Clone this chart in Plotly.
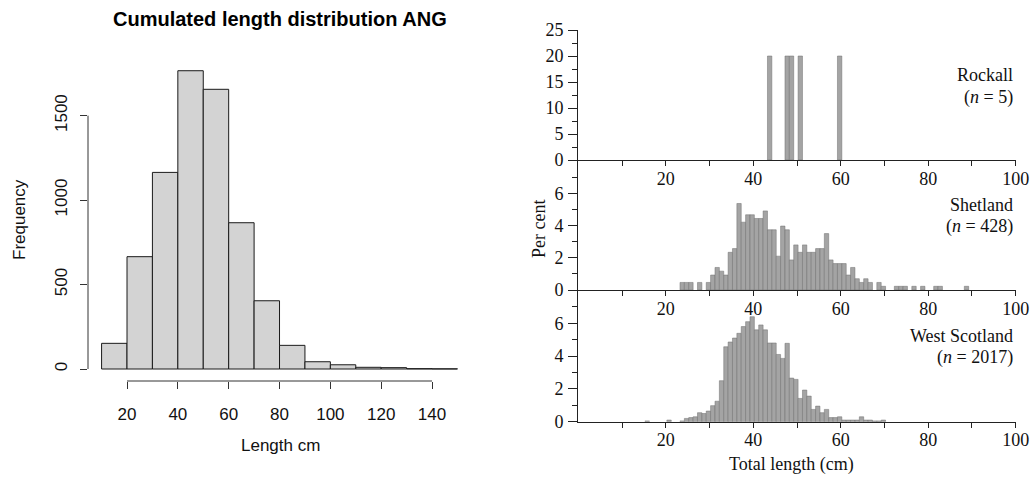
import plotly.graph_objects as go

# ---------------- data ----------------
# Left panel: cumulated length distribution ANG (10 cm bins)
ang_bin_start = [10, 20, 30, 40, 50, 60, 70, 80, 90, 100, 110, 120, 130, 140]
ang_counts = [152, 665, 1164, 1766, 1656, 866, 404, 140, 43, 25, 10, 8, 2, 1]
ang_xticks = [20, 40, 60, 80, 100, 120, 140]
ang_yticks = [0, 500, 1000, 1500]

# Right panels: per cent by 1 cm length class (lower bound of class)
rockall_len = [43, 47, 48, 50, 59]
rockall_pct = [20, 20, 20, 20, 20]

shetland_len = [23, 24, 25, 27, 29, 30, 31, 32, 33, 34, 35, 36, 37, 38, 39, 40, 41, 42,
                43, 44, 45, 46, 47, 48, 49, 50, 51, 52, 53, 54, 55, 56, 57, 58, 59, 60,
                61, 62, 63, 64, 65, 66, 68, 69, 72, 73, 74, 76, 78, 81, 82, 88]
shetland_pct = [0.47, 0.47, 0.47, 0.47, 0.47, 0.93, 1.40, 1.17, 0.93, 2.34, 2.57, 5.37,
                4.21, 4.67, 4.67, 4.44, 4.44, 4.91, 3.74, 3.74, 2.10, 3.97, 3.74, 1.87,
                2.80, 2.34, 2.80, 2.34, 2.34, 2.57, 2.57, 3.50, 1.87, 1.64, 1.64, 1.64,
                0.93, 1.40, 0.70, 0.47, 0.70, 0.47, 0.47, 0.23, 0.23, 0.23, 0.23, 0.23,
                0.23, 0.23, 0.23, 0.23]

wscot_len = [15, 20, 23, 24, 25, 26, 27, 28, 29, 30, 31, 32, 33, 34, 35, 36, 37, 38, 39,
             40, 41, 42, 43, 44, 45, 46, 47, 48, 49, 50, 51, 52, 53, 54, 55, 56, 57, 58,
             59, 60, 61, 62, 63, 64, 65, 66, 67, 68, 69]
wscot_pct = [0.05, 0.10, 0.05, 0.20, 0.25, 0.30, 0.55, 0.50, 0.65, 0.98, 1.25, 2.50,
             4.57, 4.86, 5.10, 5.39, 5.80, 6.10, 6.40, 5.60, 5.90, 5.60, 4.80, 4.80,
             4.10, 3.86, 4.78, 2.66, 2.58, 1.42, 1.93, 1.56, 0.75, 0.95, 0.55, 0.75,
             0.25, 0.25, 0.30, 0.10, 0.10, 0.10, 0.10, 0.30, 0.10, 0.10, 0.05, 0.05, 0.10]

panel_names = ["Rockall", "Shetland", "West Scotland"]
panel_n = [5, 428, 2017]

# ---------------- layout helpers ----------------
W, H = 1034, 478
def px(x):
    return x / W
def py(y):
    return 1 - y / H

SANS = "Liberation Sans"
SERIF = "Liberation Serif"
BAR_FILL = "#a4a4a4"
BAR_EDGE = "#6f6f6f"
AXC = "#222222"

fig = go.Figure()

# left histogram
fig.add_trace(go.Bar(
    x=[s + 5 for s in ang_bin_start], y=ang_counts, width=10,
    marker=dict(color="#d3d3d3", line=dict(color="#1a1a1a", width=1)),
    xaxis="x", yaxis="y", showlegend=False, hoverinfo="skip"))

offset = 0.75
for lens, pcts, ax in [(rockall_len, rockall_pct, "2"),
                       (shetland_len, shetland_pct, "3"),
                       (wscot_len, wscot_pct, "4")]:
    fig.add_trace(go.Bar(
        x=[l + offset for l in lens], y=pcts, width=1,
        marker=dict(color=BAR_FILL, line=dict(color=BAR_EDGE, width=0.5)),
        xaxis="x" + ax, yaxis="y" + ax, showlegend=False, hoverinfo="skip"))

# left axes geometry (pixels)
lx0, lx1 = 88, 472
x_per = 2.542
lv0 = 20 - (127 - lx0) / x_per
lv1 = 20 + (lx1 - 127) / x_per
ly_top, ly_bot, y0px, y_per = 59, 381, 369, 0.1689
lyr0 = -(ly_bot - y0px) / y_per
lyr1 = (y0px - ly_top) / y_per

common_left = dict(showgrid=False, zeroline=False, showline=False, ticks="outside",
                   ticklen=7, tickcolor="#333", tickwidth=1, automargin=False,
                   tickfont=dict(family=SANS, size=17, color="#111"))

layout = dict(
    width=W, height=H, margin=dict(l=0, r=0, t=0, b=0, pad=0), autosize=False,
    paper_bgcolor="white", plot_bgcolor="white", barmode="overlay",
    xaxis=dict(domain=[px(lx0), px(lx1)], range=[lv0, lv1], anchor="y",
               tickvals=ang_xticks, ticklabelstandoff=11, **common_left),
    yaxis=dict(domain=[py(ly_bot), py(ly_top)], range=[lyr0, lyr1], anchor="x",
               tickvals=ang_yticks, tickangle=-90, ticklabelstandoff=6, **common_left),
)

# right panels
rx0, rx1 = 578.3, 1015.7
panels = [("2", 30, 160, 25, [0, 5, 10, 15, 20, 25], [2.5, 7.5, 12.5, 17.5, 22.5]),
          ("3", 160, 290, 8.07, [0, 2, 4, 6], [1, 3, 5, 7]),
          ("4", 290, 421.7, 8.03, [0, 2, 4, 6], [1, 3, 5, 7])]
xt_vals = list(range(10, 101, 10))
xt_text = [str(v) if v % 20 == 0 else "" for v in xt_vals]
for ax, top, bot, ymax, yt, ymin in panels:
    layout["xaxis" + ax] = dict(
        domain=[px(rx0), px(rx1)], range=[0, 100], anchor="y" + ax, automargin=False,
        showgrid=False, zeroline=False, showline=True, linecolor=AXC, linewidth=1.2,
        ticks="outside", ticklen=5, tickcolor=AXC, tickvals=xt_vals, ticktext=xt_text,
        tickfont=dict(family=SERIF, size=18, color="#111"), ticklabelstandoff=-3)
    layout["yaxis" + ax] = dict(
        domain=[py(bot), py(top)], range=[0, ymax], anchor="x" + ax, automargin=False,
        showgrid=False, zeroline=False, showline=True, linecolor=AXC, linewidth=1.2,
        ticks="outside", ticklen=9, tickcolor=AXC, tickvals=yt,
        minor=dict(tickvals=ymin, ticks="outside", ticklen=5, tickcolor=AXC),
        tickfont=dict(family=SERIF, size=18, color="#111"), ticklabelstandoff=1)

fig.update_layout(**layout)

# left detached axis lines (R style)
fig.add_shape(type="line", xref="x", yref="y domain", x0=ang_xticks[0], x1=ang_xticks[-1],
              y0=0, y1=0, line=dict(color="#333", width=1))
fig.add_shape(type="line", xref="x domain", yref="y", x0=0, x1=0,
              y0=ang_yticks[0], y1=ang_yticks[-1], line=dict(color="#333", width=1))

ann = []
ann.append(dict(text="<b>Cumulated length distribution ANG</b>", x=px(279.5), y=py(19),
                font=dict(family=SANS, size=20, color="#000")))
ann.append(dict(text="Frequency", x=px(19), y=py(220), textangle=-90,
                font=dict(family=SANS, size=17, color="#111")))
ann.append(dict(text="Length cm", x=px(280), y=py(445),
                font=dict(family=SANS, size=17, color="#111")))
ann.append(dict(text="Per cent", x=px(539), y=py(229), textangle=-90,
                font=dict(family=SERIF, size=18, color="#111")))
ann.append(dict(text="Total length (cm)", x=px(791), y=py(464),
                font=dict(family=SERIF, size=18, color="#111")))
label_y = [(75, 97), (205, 226), (336, 357)]
for name, n, (y1, y2) in zip(panel_names, panel_n, label_y):
    ann.append(dict(text=name, x=px(1015), y=py(y1), xanchor="right",
                    font=dict(family=SERIF, size=18, color="#111")))
    ann.append(dict(text=f"(<i>n</i> = {n})", x=px(1015), y=py(y2), xanchor="right",
                    font=dict(family=SERIF, size=18, color="#111")))
for a in ann:
    a.setdefault("xanchor", "center")
    a.update(xref="paper", yref="paper", yanchor="middle", showarrow=False)
fig.update_layout(annotations=ann)

fig.write_html("out.html")
